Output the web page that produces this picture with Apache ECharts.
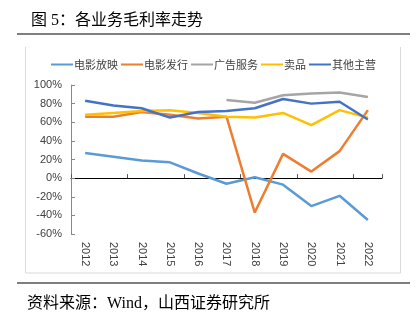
<!DOCTYPE html>
<html><head><meta charset="utf-8">
<script src="https://cdn.jsdelivr.net/npm/echarts@6/dist/echarts.min.js"></script>
<style>html,body{margin:0;padding:0;background:#fff}#c{width:420px;height:321px}</style>
</head><body><div id="c"></div>
<script>
const categories = ['2012','2013','2014','2015','2016','2017','2018','2019','2020','2021','2022'];
const screening = [27, 23, 19, 17, 5, -6, 1, -7, -30, -19, -45];
const distribution = [66, 66, 71, 68, 64, 66, -37, 26, 7, 29, 73];
const advertising = [null, null, null, null, null, 84, 81, 89, 91, 92, 87];
const concessions = [68, 70, 72, 73, 70, 66, 65, 70, 57, 73, 65];
const otherMain = [83, 78, 75, 65, 71, 72, 75, 85, 80, 82, 63];
const seriesNames = ['电影放映','电影发行','广告服务','卖品','其他主营'];
const colors = ['#5B9BD5','#ED7D31','#A5A5A5','#FFC000','#4472C4'];
const yTicks = {min:-60, max:100, interval:20};

const chart = echarts.init(document.getElementById('c'));
const dataSets = [screening, distribution, advertising, concessions, otherMain];
const font = '"Noto Sans CJK SC", sans-serif';
chart.setOption({
  animation:false,
  color: colors,
  title:{text:'图 5：各业务毛利率走势', left:26, top:8,
    textStyle:{fontSize:16, fontWeight:'normal', color:'#000', fontFamily:'"Liberation Serif","Noto Sans CJK SC",serif'}},
  legend:{top:54, left:46, itemWidth:22, itemHeight:2, itemGap:3, icon:'rect',
    textStyle:{fontSize:11, color:'#404040', fontFamily:font, padding:[0,0,0,-4]},
    data: seriesNames},
  grid:{left:71, right:38, top:85, bottom:87},
  xAxis:[
    {type:'category', data:categories, position:'bottom', axisLine:{show:false, onZero:false},
     axisTick:{show:false}, axisLabel:{rotate:-90, fontSize:11, color:'#404040', margin:8, fontFamily:'Liberation Sans, sans-serif'}},
    {type:'category', data:categories, position:'bottom', axisLine:{show:true, onZero:true, lineStyle:{color:'#000', width:1}},
     axisTick:{show:true, inside:true, length:4, lineStyle:{color:'#555'}}, axisLabel:{show:false}}
  ],
  yAxis:{type:'value', min:yTicks.min, max:yTicks.max, interval:yTicks.interval,
    axisLine:{show:true, lineStyle:{color:'#888'}},
    axisTick:{show:true, inside:true, length:4, lineStyle:{color:'#888'}},
    splitLine:{show:false},
    axisLabel:{formatter:'{value}%', fontSize:11, color:'#404040', margin:9, fontFamily:'Liberation Sans, sans-serif'}},
  series: seriesNames.map((n,i)=>({name:n, type:'line', data:dataSets[i], xAxisIndex:0,
    showSymbol:false, symbol:'none', lineStyle:{width:2.5, color:colors[i]}, itemStyle:{color:colors[i]}})),
  graphic:[
    {type:'line', shape:{x1:17,y1:34,x2:410,y2:34}, style:{stroke:'#555', lineWidth:1.5}},
    {type:'line', shape:{x1:25.5,y1:47,x2:25.5,y2:273}, style:{stroke:'#d9d9d9', lineWidth:1}},
    {type:'line', shape:{x1:400.5,y1:47,x2:400.5,y2:273}, style:{stroke:'#d9d9d9', lineWidth:1}},
    {type:'line', shape:{x1:25.5,y1:273,x2:400.5,y2:273}, style:{stroke:'#d9d9d9', lineWidth:1}},
    {type:'line', shape:{x1:17,y1:283,x2:410,y2:283}, style:{stroke:'#555', lineWidth:1.5}},
    {type:'text', left:27, top:296, style:{text:'资料来源：Wind，山西证券研究所', fontSize:16, fill:'#000',
      fontFamily:'"Liberation Serif","Noto Sans CJK SC",serif'}}
  ]
});
</script></body></html>
